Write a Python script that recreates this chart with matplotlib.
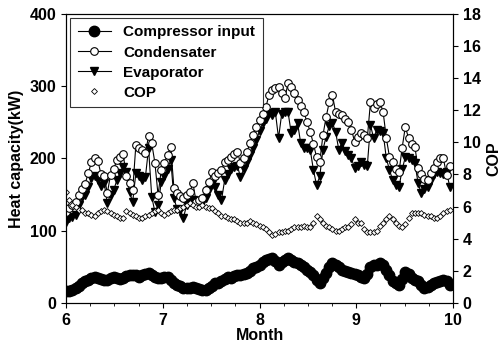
import numpy as np
import matplotlib
matplotlib.use("Agg")
from matplotlib import pyplot as plt
from matplotlib.ticker import MultipleLocator

plt.rcParams['font.family'] = ['Liberation Sans', 'DejaVu Sans']
plt.rcParams['font.weight'] = 'bold'

# daily values, 1 June - 30 September
day = np.arange(122)

condenser = [126, 132, 135, 140, 150, 158, 165, 180, 195, 200,
             197, 178, 175, 152, 177, 185, 198, 202, 206, 175,
             166, 156, 219, 214, 212, 207, 231, 221, 194, 149,
             184, 194, 205, 216, 159, 152, 148, 145, 150, 153,
             166, 140, 142, 145, 156, 167, 181, 176, 180, 184,
             195, 198, 202, 206, 209, 194, 200, 209, 221, 232,
             244, 253, 262, 271, 288, 295, 297, 299, 290, 284,
             304, 299, 290, 281, 272, 264, 250, 237, 220, 202,
             195, 232, 257, 278, 288, 264, 262, 260, 255, 250,
             240, 223, 230, 235, 232, 228, 278, 270, 275, 278,
             264, 228, 202, 195, 185, 181, 215, 244, 228, 220,
             216, 187, 178, 172, 170, 180, 187, 195, 200, 200,
             177, 190]

evaporator = [112, 118, 119, 122, 135, 146, 150, 160, 173, 175,
              170, 162, 166, 138, 150, 156, 170, 180, 188, 181,
              153, 140, 180, 175, 170, 174, 214, 147, 126, 135,
              167, 175, 185, 198, 145, 130, 128, 118, 135, 140,
              142, 140, 135, 138, 145, 156, 165, 160, 150, 142,
              170, 178, 185, 188, 190, 174, 185, 195, 205, 215,
              225, 238, 249, 255, 263, 260, 264, 228, 262, 264,
              264, 235, 240, 249, 221, 215, 214, 212, 184, 163,
              175, 212, 230, 245, 249, 237, 212, 222, 210, 205,
              200, 187, 190, 195, 191, 190, 246, 228, 240, 238,
              235, 200, 184, 170, 163, 160, 185, 202, 200, 198,
              194, 166, 152, 158, 160, 170, 178, 181, 180, 178,
              181, 161]

compressor = [16, 17, 18, 20, 24, 27, 30, 32, 34, 36,
              35, 33, 31, 32, 34, 36, 35, 33, 35, 37,
              38, 39, 38, 36, 39, 40, 41, 38, 36, 35,
              35, 36, 36, 32, 28, 25, 23, 21, 20, 21,
              22, 20, 19, 18, 18, 20, 24, 28, 27, 30,
              33, 36, 35, 37, 39, 38, 40, 41, 44, 48,
              50, 53, 56, 59, 61, 62, 58, 52, 56, 60,
              62, 60, 57, 55, 53, 50, 46, 43, 38, 32,
              28, 35, 42, 50, 55, 53, 50, 46, 44, 43,
              41, 40, 38, 36, 35, 40, 50, 53, 52, 55,
              53, 46, 38, 30, 27, 25, 33, 43, 40, 35,
              32, 30, 25, 21, 22, 25, 28, 29, 30, 32,
              30, 25]

cop = [6.9, 6.4, 6.1, 6.0, 5.8, 5.8, 5.6, 5.6, 5.5, 5.4,
       5.6, 5.7, 5.8, 5.7, 5.6, 5.5, 5.4, 5.3, 5.3, 5.7,
       5.6, 5.5, 5.4, 5.3, 5.3, 5.4, 5.5, 5.6, 5.7, 5.8,
       5.6, 5.5, 5.6, 5.7, 5.8, 5.8, 5.9, 6.0, 6.1, 6.2,
       6.1, 6.0, 6.0, 6.1, 6.0, 5.9, 5.9, 5.7, 5.6, 5.4,
       5.4, 5.3, 5.2, 5.2, 5.1, 5.0, 5.0, 5.0, 5.1, 5.0,
       4.9, 4.8, 4.7, 4.6, 4.4, 4.2, 4.3, 4.4, 4.4, 4.5,
       4.5, 4.6, 4.7, 4.7, 4.7, 4.8, 4.7, 4.7, 5.0, 5.4,
       5.2, 5.0, 4.8, 4.7, 4.6, 4.5, 4.5, 4.6, 4.7, 4.7,
       4.9, 5.2, 5.0, 5.0, 4.6, 4.4, 4.4, 4.4, 4.5, 4.8,
       5.0, 5.2, 5.4, 5.2, 5.0, 4.8, 4.7, 4.9, 5.3, 5.6,
       5.6, 5.6, 5.6, 5.5, 5.4, 5.4, 5.3, 5.3, 5.4, 5.6,
       5.7, 5.8]

month = 6 + day / 30.5

fig = plt.figure(figsize=(5.01, 3.58), dpi=100)
ax = fig.add_axes([0.132, 0.154, 0.772, 0.807])
ax2 = ax.twinx()

l1, = ax.plot(month, compressor, '-o', color='black', mfc='black', ms=7.5, lw=0.8,
              label='Compressor input')
l3, = ax.plot(month, evaporator, '-v', color='black', mfc='black', ms=5.5, lw=0.8,
              label='Evaporator', zorder=2)
l2, = ax.plot(month, condenser, '-o', color='black', mfc='white', ms=5.5, lw=0.8,
              mew=0.8, label='Condensater', zorder=3)
l4, = ax2.plot(month, cop, 'D', color='black', mfc='white', ms=3, mew=0.6,
               linestyle='none', label='COP')

ax.set_xlim(6, 10)
ax.set_ylim(0, 400)
ax2.set_ylim(0, 18)
ax.xaxis.set_major_locator(MultipleLocator(1))
ax.xaxis.set_minor_locator(MultipleLocator(0.25))
ax.yaxis.set_major_locator(MultipleLocator(100))
ax2.yaxis.set_major_locator(MultipleLocator(2))

for a in (ax, ax2):
    a.tick_params(direction='out', labelsize=11.5, width=0.8)
    for lab in a.get_xticklabels() + a.get_yticklabels():
        lab.set_fontweight('bold')
ax.tick_params(which='minor', direction='out', length=2)

ax.set_xlabel('Month', fontsize=11.5, fontweight='bold', labelpad=0)
ax.set_ylabel('Heat capacity(kW)', fontsize=11.5, fontweight='bold', labelpad=4)
ax2.set_ylabel('COP', fontsize=11.5, fontweight='bold', labelpad=4)

leg = ax.legend(handles=[l1, l2, l3, l4], loc='upper left', fontsize=11,
                frameon=True, fancybox=False, edgecolor='black',
                handlelength=2.2, borderaxespad=0.25, labelspacing=0.4,
                borderpad=0.5)
leg.get_frame().set_linewidth(0.8)
leg.set_zorder(10)
for t in leg.get_texts():
    t.set_fontweight('bold')

fig.savefig('out.png', dpi=100)
